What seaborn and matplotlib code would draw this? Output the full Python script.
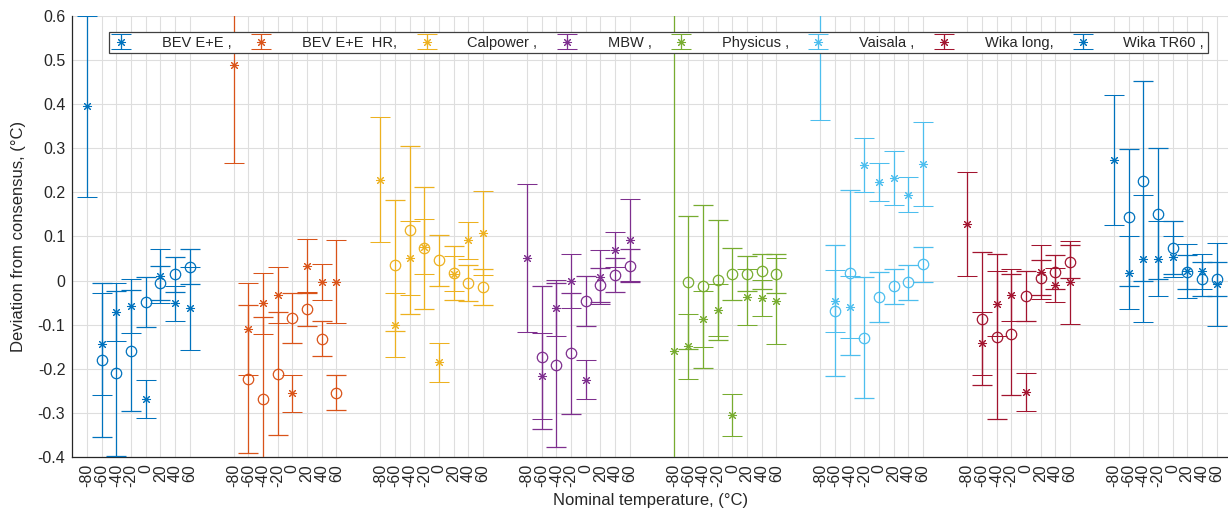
import numpy as np
import pandas as pd
import matplotlib
matplotlib.use("Agg")
import matplotlib.pyplot as plt
import seaborn as sns

nan = np.nan
temps = [-80, -60, -40, -20, 0, 20, 40, 60]
tick_labels = [str(t) for t in temps]
labs = ["BEV E+E ,", "BEV E+E  HR,", "Calpower ,", "MBW ,", "Physicus ,",
        "Vaisala ,", "Wika long,", "Wika TR60 ,"]
colors = ["#0072BD", "#D95319", "#EDB120", "#7E2F8E", "#77AC30",
          "#4DBEEE", "#A2142F", "#0072BD"]

star_bev = [0.395, -0.144, -0.071, -0.057, -0.268, 0.011, -0.051, -0.062]
star_bev_err = [0.205, 0.116, 0.066, 0.061, 0.043, 0.061, 0.040, 0.094]
circ_bev = [nan, -0.180, -0.210, -0.159, -0.049, -0.005, 0.014, 0.032]
circ_bev_err = [nan, 0.175, 0.186, 0.137, 0.057, 0.038, 0.039, 0.040]

star_bevhr = [0.488, -0.109, -0.051, -0.033, -0.255, 0.034, -0.003, -0.002]
star_bevhr_err = [0.222, 0.104, 0.069, 0.064, 0.042, 0.060, 0.040, 0.095]
circ_bevhr = [nan, -0.222, -0.269, -0.211, -0.085, -0.065, -0.131, -0.254]
circ_bevhr_err = [nan, 0.168, 0.186, 0.139, 0.057, 0.038, 0.040, 0.040]

star_cal = [0.229, -0.101, 0.051, 0.077, -0.185, 0.016, 0.091, 0.108]
star_cal_err = [0.142, 0.072, 0.083, 0.063, 0.044, 0.040, 0.041, 0.096]
circ_cal = [nan, 0.035, 0.115, 0.073, 0.046, 0.018, -0.005, -0.015]
circ_cal_err = [nan, 0.148, 0.190, 0.138, 0.057, 0.061, 0.040, 0.041]

star_mbw = [0.051, -0.216, -0.062, 0.000, -0.224, 0.009, 0.070, 0.093]
star_mbw_err = [0.168, 0.097, 0.064, 0.061, 0.044, 0.061, 0.040, 0.093]
circ_mbw = [nan, -0.173, -0.191, -0.164, -0.046, -0.010, 0.013, 0.034]
circ_mbw_err = [nan, 0.162, 0.186, 0.137, 0.057, 0.039, 0.039, 0.038]

star_phy = [-0.160, -0.149, -0.087, -0.066, -0.304, -0.037, -0.039, -0.046]
star_phy_err = [0.900, 0.074, 0.064, 0.059, 0.047, 0.063, 0.040, 0.097]
circ_phy = [nan, -0.004, -0.013, 0.001, 0.016, 0.016, 0.021, 0.016]
circ_phy_err = [nan, 0.150, 0.184, 0.136, 0.059, 0.039, 0.040, 0.045]

star_vai = [0.650, -0.046, -0.060, 0.262, 0.223, 0.232, 0.195, 0.264]
star_vai_err = [0.287, 0.070, 0.070, 0.061, 0.043, 0.061, 0.040, 0.095]
circ_vai = [nan, -0.068, 0.018, -0.129, -0.037, -0.013, -0.004, 0.037]
circ_vai_err = [nan, 0.148, 0.187, 0.137, 0.057, 0.039, 0.039, 0.039]

star_wl = [0.128, -0.142, -0.052, -0.033, -0.252, 0.020, -0.010, -0.004]
star_wl_err = [0.118, 0.072, 0.073, 0.059, 0.043, 0.061, 0.039, 0.094]
circ_wl = [nan, -0.086, -0.127, -0.121, -0.035, 0.007, 0.019, 0.043]
circ_wl_err = [nan, 0.150, 0.187, 0.137, 0.056, 0.039, 0.039, 0.037]

star_tr = [0.274, 0.018, 0.050, 0.050, 0.054, 0.022, 0.021, -0.008]
star_tr_err = [0.147, 0.082, 0.144, 0.084, 0.046, 0.061, 0.040, 0.094]
circ_tr = [nan, 0.144, 0.226, 0.152, 0.074, 0.020, 0.004, 0.004]
circ_tr_err = [nan, 0.155, 0.226, 0.148, 0.060, 0.039, 0.039, 0.038]

stars = [star_bev, star_bevhr, star_cal, star_mbw, star_phy, star_vai, star_wl, star_tr]
stars_err = [star_bev_err, star_bevhr_err, star_cal_err, star_mbw_err,
             star_phy_err, star_vai_err, star_wl_err, star_tr_err]
circs = [circ_bev, circ_bevhr, circ_cal, circ_mbw, circ_phy, circ_vai, circ_wl, circ_tr]
circs_err = [circ_bev_err, circ_bevhr_err, circ_cal_err, circ_mbw_err,
             circ_phy_err, circ_vai_err, circ_wl_err, circ_tr_err]

sns.set_theme(style="white")
plt.rcParams["font.family"] = ["Liberation Sans", "DejaVu Sans"]

W, H = 1228, 518
fig = plt.figure(figsize=(W / 100, H / 100), dpi=100)
ax = fig.add_axes([72.3 / W, (H - 457.3) / H, 1156 / W, 441.6 / H])

star_marker = (8, 2, 0)
handles = []
all_pos = []
for g in range(len(labs)):
    pos = g * 10 + np.arange(len(temps)) + 1
    all_pos.extend(pos)
    c = colors[g]
    ax.errorbar(pos, circs[g], yerr=circs_err[g], linestyle="none", marker="o",
                ms=7.5, mfc="none", mec=c, mew=0.9, ecolor=c, elinewidth=0.9,
                capsize=7.5, capthick=0.9, zorder=3)
    h = ax.errorbar(pos, stars[g], yerr=stars_err[g], linestyle="none",
                    marker=star_marker, ms=6.5, mec=c, mfc=c, mew=0.75,
                    color=c, ecolor=c, elinewidth=0.9, capsize=7.5,
                    capthick=0.9, zorder=4, label=labs[g])
    handles.append(h)

ax.set_xlim(0, 78.8)
ax.set_ylim(-0.4, 0.6)
ax.set_xticks(all_pos)
ax.set_xticklabels(tick_labels * len(labs), rotation=90, fontsize=11.5)
ax.set_yticks(np.round(np.arange(-0.4, 0.61, 0.1), 1))
ax.set_yticklabels(["-0.4", "-0.3", "-0.2", "-0.1", "0", "0.1", "0.2", "0.3",
                    "0.4", "0.5", "0.6"], fontsize=11.5)
ax.tick_params(axis="both", direction="in", length=8.8, width=0.8,
               color="black", pad=5, labelcolor="#262626")
ax.grid(True, color="#dedede", linewidth=0.8)
ax.set_axisbelow(True)
for s in ["top", "right"]:
    ax.spines[s].set_visible(False)
for s in ["left", "bottom"]:
    ax.spines[s].set_color("#262626")
    ax.spines[s].set_linewidth(0.9)

ax.set_xlabel("Nominal temperature, (°C)", fontsize=12, color="#262626", labelpad=4)
ax.set_ylabel("Deviation from consensus, (°C)", fontsize=12, color="#262626", labelpad=8)

leg = fig.legend(handles, labs, loc="center", ncol=8, mode="expand",
                 bbox_to_anchor=(101.7 / W, (H - 55.7) / H, (1215 - 101.7) / W, 25.7 / H),
                 fontsize=10.5, frameon=True, fancybox=False, framealpha=1,
                 edgecolor="#404040", handlelength=1.2, handletextpad=2.2,
                 borderpad=0.25, columnspacing=1.0)
leg.get_frame().set_linewidth(0.9)
for t in leg.get_texts():
    t.set_color("#262626")

fig.savefig("out.png", dpi=100)
